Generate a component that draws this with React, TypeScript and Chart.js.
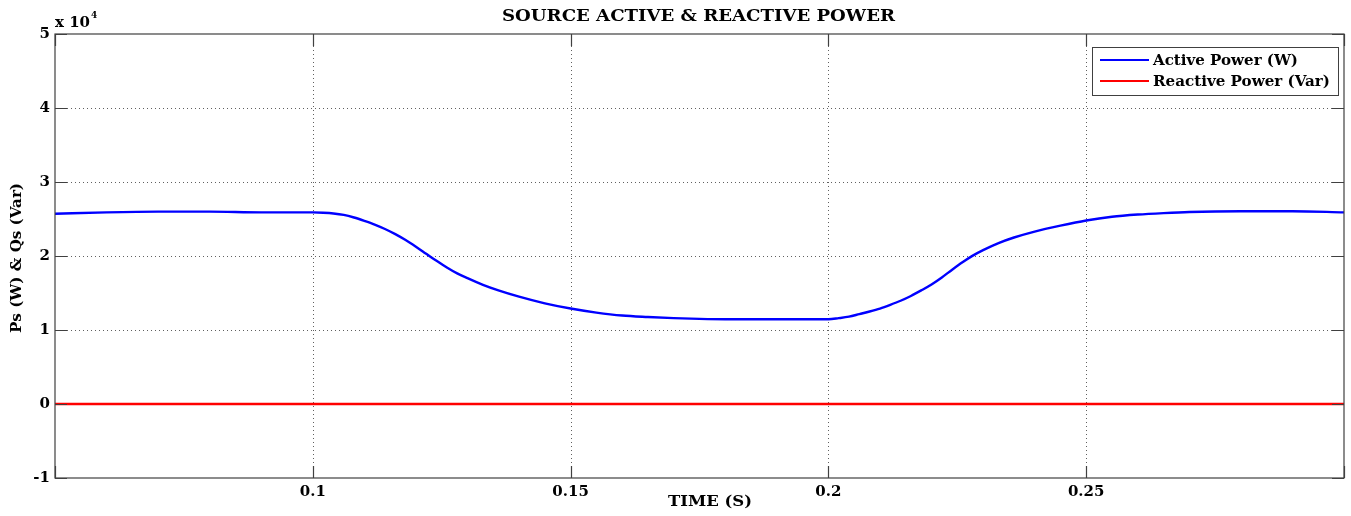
import { useEffect, useRef } from "react";
import { Chart, registerables } from "chart.js";

Chart.register(...registerables);

// Simulation time (s) and source active power (W)
const timeS = [
  0.05, 0.06, 0.07, 0.08, 0.09, 0.1, 0.102, 0.104, 0.106, 0.108, 0.11, 0.112,
  0.114, 0.116, 0.118, 0.12, 0.122, 0.124, 0.126, 0.128, 0.13, 0.133, 0.136,
  0.14, 0.145, 0.15, 0.155, 0.16, 0.165, 0.17, 0.175, 0.18, 0.19, 0.2, 0.202,
  0.204, 0.206, 0.208, 0.21, 0.212, 0.214, 0.216, 0.218, 0.22, 0.222, 0.224,
  0.226, 0.228, 0.23, 0.233, 0.236, 0.24, 0.245, 0.25, 0.255, 0.26, 0.265,
  0.27, 0.28, 0.29, 0.3,
];
const activePowerW = [
  25700, 25900, 26000, 26000, 25900, 25900, 25850, 25750, 25550, 25200, 24750,
  24250, 23650, 22950, 22150, 21250, 20300, 19350, 18450, 17650, 17000, 16100,
  15350, 14500, 13600, 12900, 12350, 11950, 11750, 11600, 11500, 11450, 11450,
  11450, 11600, 11800, 12150, 12500, 12900, 13400, 13950, 14600, 15350, 16150,
  17100, 18150, 19150, 20050, 20800, 21750, 22500, 23300, 24100, 24800, 25300,
  25600, 25800, 25950, 26050, 26050, 25900,
];

// Source reactive power (Var)
const reactiveTimeS = [0.05, 0.1, 0.15, 0.2, 0.25, 0.3];
const reactivePowerVar = [0, 0, 0, 0, 0, 0];

const seriesNames = ["Active Power (W)", "Reactive Power (Var)"];
const seriesColors = ["#0000ff", "#ff0000"];

const chartTitle = "SOURCE ACTIVE & REACTIVE POWER";
const xAxisTitle = "TIME (S)";
const yAxisTitle = "Ps (W) & Qs (Var)";

// Axis ranges and tick steps
const xRange = [0.05, 0.3];
const xStep = 0.05;
const yRange = [-10000, 50000];
const yStep = 10000;
const yExponent = 4;

const SERIF = "'DejaVu Serif', 'Liberation Serif', serif";

// Draws text scaled horizontally to a given width
function fitText(
  ctx: CanvasRenderingContext2D,
  text: string,
  cx: number,
  cy: number,
  width: number
) {
  const w = ctx.measureText(text).width;
  ctx.save();
  ctx.translate(cx, cy);
  ctx.scale(width / w, 1);
  ctx.textAlign = "center";
  ctx.textBaseline = "middle";
  ctx.fillText(text, 0, 0);
  ctx.restore();
}

const matlabAxes = {
  id: "matlabAxes",
  beforeDatasetsDraw(chart: any) {
    const { ctx, chartArea: a, scales } = chart;
    const { x, y } = scales;
    ctx.save();
    ctx.strokeStyle = "#606060";
    ctx.lineWidth = 1;
    ctx.setLineDash([1, 3]);
    x.ticks.forEach((t: any) => {
      const px = Math.round(x.getPixelForValue(t.value)) + 0.5;
      if (px <= a.left + 2 || px >= a.right - 2) return;
      ctx.beginPath();
      ctx.moveTo(px, a.top);
      ctx.lineTo(px, a.bottom);
      ctx.stroke();
    });
    y.ticks.forEach((t: any) => {
      const py = Math.round(y.getPixelForValue(t.value)) + 0.5;
      if (py <= a.top + 2 || py >= a.bottom - 2) return;
      ctx.beginPath();
      ctx.moveTo(a.left, py);
      ctx.lineTo(a.right, py);
      ctx.stroke();
    });
    ctx.restore();
  },
  afterDatasetsDraw(chart: any) {
    const { ctx, chartArea: a, scales } = chart;
    const { x, y } = scales;
    const tick = 12;
    ctx.save();
    ctx.setLineDash([]);
    ctx.strokeStyle = "#404040";
    ctx.lineWidth = 1.2;
    ctx.strokeRect(a.left, a.top, a.right - a.left, a.bottom - a.top);
    ctx.beginPath();
    x.ticks.forEach((t: any) => {
      const px = Math.round(x.getPixelForValue(t.value)) + 0.5;
      ctx.moveTo(px, a.bottom);
      ctx.lineTo(px, a.bottom - tick);
      ctx.moveTo(px, a.top);
      ctx.lineTo(px, a.top + tick);
    });
    y.ticks.forEach((t: any) => {
      const py = Math.round(y.getPixelForValue(t.value)) + 0.5;
      ctx.moveTo(a.left, py);
      ctx.lineTo(a.left + tick, py);
      ctx.moveTo(a.right, py);
      ctx.lineTo(a.right - tick, py);
    });
    ctx.stroke();

    // Titles
    ctx.fillStyle = "#000";
    ctx.font = `bold 16px ${SERIF}`;
    fitText(ctx, chartTitle, (a.left + a.right) / 2 - 1, 17, 393);
    ctx.font = `bold 15px ${SERIF}`;
    fitText(ctx, xAxisTitle, 710, 502, 84);
    ctx.save();
    ctx.translate(17, 258);
    ctx.rotate(-Math.PI / 2);
    ctx.font = `bold 15px ${SERIF}`;
    fitText(ctx, yAxisTitle, 0, 0, 150);
    ctx.restore();

    // Exponent marker
    ctx.font = `bold 14px ${SERIF}`;
    fitText(ctx, "x 10", a.left + 17.5, 23, 35);
    ctx.font = `bold 9px ${SERIF}`;
    ctx.textAlign = "left";
    ctx.textBaseline = "middle";
    ctx.fillText(String(yExponent), a.left + 36, 16);

    // Legend
    const lx = 1092;
    const ly = 47;
    const lw = 246;
    const lh = 48;
    ctx.fillStyle = "#fff";
    ctx.fillRect(lx, ly, lw, lh);
    ctx.strokeStyle = "#404040";
    ctx.lineWidth = 1;
    ctx.strokeRect(lx + 0.5, ly + 0.5, lw, lh);
    const rows = [60, 81];
    const widths = [145, 177];
    seriesNames.forEach((name, i) => {
      ctx.strokeStyle = seriesColors[i];
      ctx.lineWidth = 2;
      ctx.beginPath();
      ctx.moveTo(1100, rows[i]);
      ctx.lineTo(1149, rows[i]);
      ctx.stroke();
      ctx.fillStyle = "#000";
      ctx.font = `bold 14px ${SERIF}`;
      fitText(ctx, name, 1153 + widths[i] / 2, rows[i] + 1, widths[i]);
    });
    ctx.restore();
  },
};

export default function App() {
  const canvasRef = useRef<HTMLCanvasElement | null>(null);

  useEffect(() => {
    const canvas = canvasRef.current;
    if (!canvas) return;
    const chart = new Chart(canvas, {
      type: "line",
      data: {
        datasets: [
          {
            label: seriesNames[0],
            data: timeS.map((t, i) => ({ x: t, y: activePowerW[i] })),
            borderColor: seriesColors[0],
            borderWidth: 2.4,
            pointRadius: 0,
            cubicInterpolationMode: "monotone",
          },
          {
            label: seriesNames[1],
            data: reactiveTimeS.map((t, i) => ({ x: t, y: reactivePowerVar[i] })),
            borderColor: seriesColors[1],
            borderWidth: 2.4,
            pointRadius: 0,
          },
        ],
      },
      options: {
        responsive: false,
        animation: false,
        devicePixelRatio: 1,
        layout: { padding: { left: 0, right: 7, top: 34, bottom: 0 } },
        plugins: {
          legend: { display: false },
          title: { display: false },
          tooltip: { enabled: false },
        },
        scales: {
          x: {
            type: "linear",
            min: xRange[0],
            max: xRange[1],
            grid: { display: false, drawTicks: false },
            border: { display: false },
            ticks: {
              stepSize: xStep,
              autoSkip: false,
              maxRotation: 0,
              padding: 5,
              color: "#000",
              font: { family: SERIF, size: 15, weight: "bold" },
              callback: (v: any) => {
                const r = Math.round(Number(v) * 100) / 100;
                if (r <= xRange[0] || r >= xRange[1]) return "";
                return String(r);
              },
            },
            afterFit: (s: any) => {
              s.height = 38;
            },
          },
          y: {
            type: "linear",
            min: yRange[0],
            max: yRange[1],
            grid: { display: false, drawTicks: false },
            border: { display: false },
            ticks: {
              stepSize: yStep,
              padding: 5,
              color: "#000",
              font: { family: SERIF, size: 15, weight: "bold" },
              callback: (v: any) => String(Math.round(Number(v) / 10 ** yExponent)),
            },
            afterFit: (s: any) => {
              s.width = 55;
            },
          },
        },
      },
      plugins: [matlabAxes],
    });
    return () => chart.destroy();
  }, []);

  return (
    <div style={{ position: "absolute", left: 0, top: 0, width: 1351, height: 516, background: "#fff" }}>
      <canvas ref={canvasRef} width={1351} height={516} style={{ display: "block" }} />
    </div>
  );
}
